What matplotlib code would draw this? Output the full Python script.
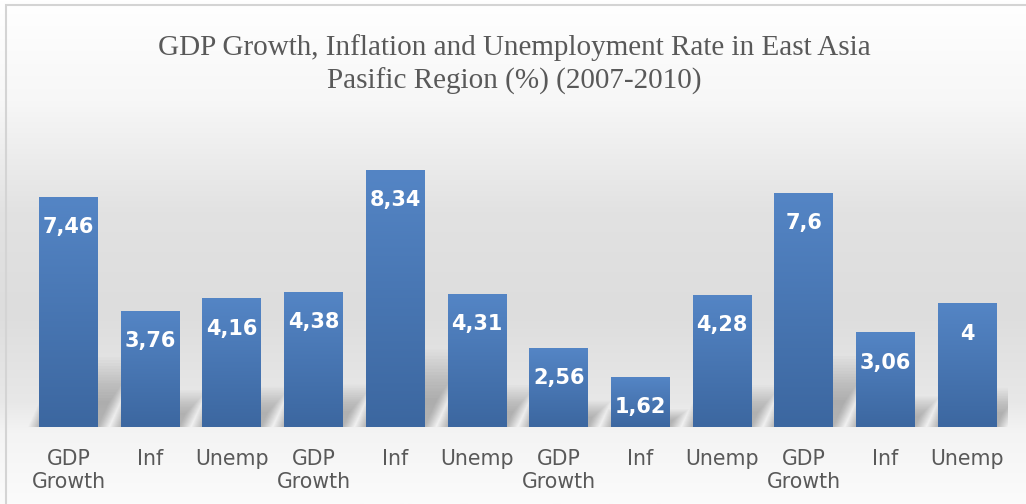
import matplotlib.pyplot as plt
import numpy as np
from matplotlib.colors import LinearSegmentedColormap
from matplotlib.patches import Polygon, Rectangle

categories = ['GDP\nGrowth', 'Inf', 'Unemp', 'GDP\nGrowth', 'Inf', 'Unemp',
              'GDP\nGrowth', 'Inf', 'Unemp', 'GDP\nGrowth', 'Inf', 'Unemp']
values = [7.46, 3.76, 4.16, 4.38, 8.34, 4.31, 2.56, 1.62, 4.28, 7.6, 3.06, 4]
value_labels = ['7,46', '3,76', '4,16', '4,38', '8,34', '4,31',
                '2,56', '1,62', '4,28', '7,6', '3,06', '4']
title = 'GDP Growth, Inflation and Unemployment Rate in East Asia\nPasific Region (%) (2007-2010)'

text_grey = '#595959'
bar_top = '#5485c5'
bar_bottom = '#3c67a0'
bar_width = 0.72

fig = plt.figure(figsize=(10.26, 5.04), dpi=100)

# background gradient for the whole chart area
bg = fig.add_axes([0, 0, 1, 1], zorder=-10)
bg_cmap = LinearSegmentedColormap.from_list(
    'bg', [(0.0, '#ffffff'), (0.2, '#f7f7f7'), (0.42, '#e2e2e2'),
           (0.62, '#dddddd'), (0.8, '#e8e8e8'), (0.86, '#f4f4f4'), (1.0, '#fbfbfb')])
grad = np.linspace(0, 1, 256).reshape(-1, 1)
bg.imshow(grad, aspect='auto', cmap=bg_cmap, extent=[0, 1, 0, 1], origin='upper')
bg.set_xlim(0, 1)
bg.set_ylim(0, 1)
bg.axis('off')
bg.add_patch(Rectangle((6 / 1026, -0.1), 1.2, 1.1 - 5 / 504, fill=False,
                       edgecolor='#d4d4d4', linewidth=1.5))

ax = fig.add_axes([27.6 / 1026, 77 / 504, (1008 - 27.6) / 1026, 277 / 504])
ax.set_facecolor('none')

bar_cmap = LinearSegmentedColormap.from_list('bar', [bar_bottom, bar_top])
x = np.arange(len(values))
bars = ax.bar(x, values, width=bar_width, color='none', edgecolor='none', zorder=3)

for b, lab in zip(bars, value_labels):
    x0 = b.get_x()
    x1 = x0 + b.get_width()
    h = b.get_height()
    # soft sheared shadow behind each bar, fading upwards
    hs = 0.24 * h + 0.1
    for k in range(16):
        f = 0.45 + 0.05 * k
        top = hs * f
        dx = 0.17 * top
        sx = k * 0.009
        poly = Polygon([(x0 - sx, 0), (x1 + sx, 0),
                        (x1 + dx + sx, top), (x0 + dx - sx, top)],
                       closed=True, facecolor='black', edgecolor='none',
                       alpha=0.017, zorder=1)
        ax.add_patch(poly)
    # gradient fill
    ax.imshow(np.linspace(1, 0, 100).reshape(-1, 1), cmap=bar_cmap, aspect='auto',
              extent=[x0, x1, 0, h], zorder=3, interpolation='bicubic')
    ax.annotate(lab, (b.get_x() + b.get_width() / 2, h), xytext=(0, -30),
                textcoords='offset pixels', ha='center', va='center',
                color='white', fontsize=15, fontweight='bold',
                family='DejaVu Sans', zorder=5)

ax.set_xlim(-0.5, len(values) - 0.5)
ax.set_ylim(0, 9)
ax.set_xticks(x)
ax.set_xticklabels(categories, fontsize=14.8, color=text_grey, family='DejaVu Sans')
ax.tick_params(axis='x', length=0, pad=16)
ax.set_yticks([])
for sp in ax.spines.values():
    sp.set_visible(False)

fig.text(514 / 1026, 1 - 34 / 504, title, ha='center', va='top',
         family='Liberation Serif', fontsize=21, color=text_grey, linespacing=1.3)

fig.savefig('out.png', dpi=100)
